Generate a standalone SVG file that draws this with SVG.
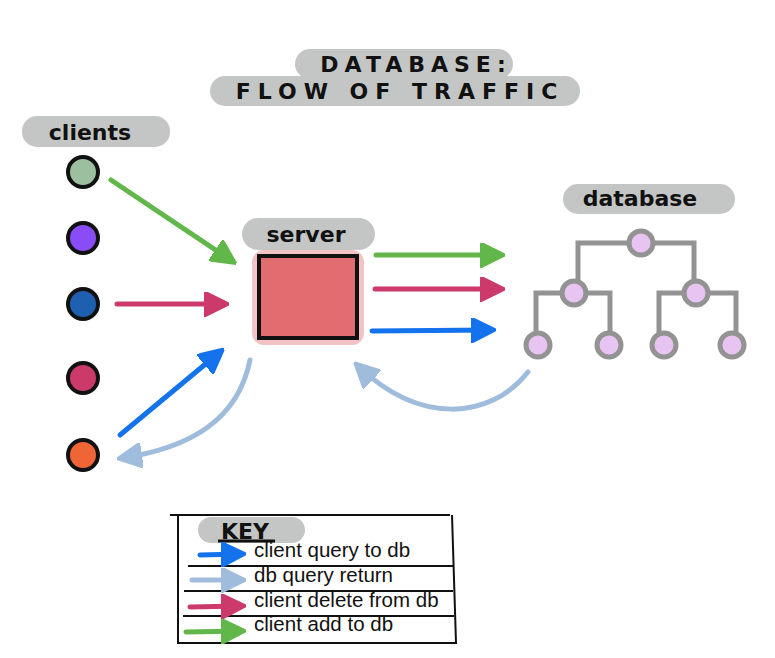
<svg xmlns="http://www.w3.org/2000/svg" width="775" height="658" viewBox="0 0 775 658">
<defs>
<style>
.pill{fill:#c4c6c6}
.hand{font-family:"DejaVu Sans",sans-serif;font-weight:bold;fill:#111}
.client{stroke:#111;stroke-width:4}
.tree{fill:none;stroke:#939393;stroke-width:5}
.tnode{fill:#e8c4f3;stroke:#939393;stroke-width:5}
.arr{fill:none;stroke-width:5;stroke-linecap:round}
.key{font-family:"Liberation Sans",Arial,sans-serif;font-size:20.5px;fill:#111}
.kline{stroke:#111;stroke-width:2;fill:none}
</style>
<marker id="hG" viewBox="0 0 10 10" refX="8" refY="5" markerWidth="5" markerHeight="5" orient="auto" markerUnits="strokeWidth"><path d="M0,0 L10,5 L0,10 z" fill="#62b74a" stroke="#62b74a" stroke-linejoin="round"/></marker>
<marker id="hP" viewBox="0 0 10 10" refX="8" refY="5" markerWidth="5" markerHeight="5" orient="auto" markerUnits="strokeWidth"><path d="M0,0 L10,5 L0,10 z" fill="#cc3a6b" stroke="#cc3a6b" stroke-linejoin="round"/></marker>
<marker id="hB" viewBox="0 0 10 10" refX="8" refY="5" markerWidth="5" markerHeight="5" orient="auto" markerUnits="strokeWidth"><path d="M0,0 L10,5 L0,10 z" fill="#1372ec" stroke="#1372ec" stroke-linejoin="round"/></marker>
<marker id="hL" viewBox="0 0 10 10" refX="8" refY="5" markerWidth="5" markerHeight="5" orient="auto" markerUnits="strokeWidth"><path d="M0,0 L10,5 L0,10 z" fill="#a0bcdc" stroke="#a0bcdc" stroke-linejoin="round"/></marker>
</defs>
<rect width="775" height="658" fill="#fff"/>

<g id="title">
<rect class="pill" x="295" y="49" width="218" height="30" rx="15"/>
<rect class="pill" x="210" y="76" width="370" height="30" rx="15"/>
<text class="hand" x="416" y="72" font-size="22" text-anchor="middle" letter-spacing="6">DATABASE:</text>
<text class="hand" x="400" y="99" font-size="22" text-anchor="middle" letter-spacing="7">FLOW  OF  TRAFFIC</text>
</g>

<g id="clients-label">
<rect class="pill" x="22" y="116" width="148" height="31" rx="15"/>
<text class="hand" x="90" y="140" font-size="22" text-anchor="middle">clients</text>
</g>

<g id="client-1"><circle class="client" cx="83" cy="172" r="15" fill="#9cbf9f"/></g>
<g id="client-2"><circle class="client" cx="83" cy="238" r="15" fill="#8a4cf6"/></g>
<g id="client-3"><circle class="client" cx="83" cy="304" r="15" fill="#1e5fb0"/></g>
<g id="client-4"><circle class="client" cx="83" cy="378" r="15" fill="#cc3a6a"/></g>
<g id="client-5"><circle class="client" cx="83" cy="455" r="15" fill="#ef6535"/></g>

<g id="server">
<rect class="pill" x="242" y="218" width="133" height="32" rx="16"/>
<text class="hand" x="306" y="242" font-size="22" text-anchor="middle">server</text>
<rect x="252" y="250" width="112" height="95" rx="12" fill="#f2c2c4"/>
<rect x="259" y="256" width="98" height="82" fill="#e26d70" stroke="#111" stroke-width="4"/>
</g>

<g id="database">
<rect class="pill" x="563" y="184" width="172" height="30" rx="15"/>
<text class="hand" x="640" y="206" font-size="22" text-anchor="middle">database</text>
<path class="tree" d="M630,243 H578 V282 M652,243 H694 V282 M563,293 H536 V333 M585,293 H610 V333 M685,293 H659 V334 M707,293 H736 V334"/>
<circle class="tnode" cx="641" cy="243" r="12"/>
<circle class="tnode" cx="574" cy="293" r="12"/>
<circle class="tnode" cx="696" cy="293" r="12"/>
<circle class="tnode" cx="538" cy="345" r="12"/>
<circle class="tnode" cx="609" cy="345" r="12"/>
<circle class="tnode" cx="664" cy="345" r="12"/>
<circle class="tnode" cx="732" cy="345" r="12"/>
</g>

<g id="connectors">
<path class="arr" stroke="#62b74a" d="M111,180 L232,261" marker-end="url(#hG)"/>
<path class="arr" stroke="#cc3a6b" d="M117,304 L224,304" marker-end="url(#hP)"/>
<path class="arr" stroke="#1372ec" d="M120,435 L220,352" marker-end="url(#hB)"/>
<path class="arr" stroke="#a0bcdc" d="M250,360 C238,420 190,448 122,458" marker-end="url(#hL)"/>
<path class="arr" stroke="#62b74a" d="M376,255 L500,255" marker-end="url(#hG)"/>
<path class="arr" stroke="#cc3a6b" d="M375,289 L500,289" marker-end="url(#hP)"/>
<path class="arr" stroke="#1372ec" d="M372,331 L491,330" marker-end="url(#hB)"/>
<path class="arr" stroke="#a0bcdc" d="M528,372 C490,420 420,425 358,366" marker-end="url(#hL)"/>
</g>

<g id="key">
<path class="kline" d="M170,515 H450 M178,515 V643 H456 L452,515"/>
<path class="kline" d="M188,566 H453 M184,591 H453 M183,616 H454"/>
<rect class="pill" x="198" y="517" width="107" height="26" rx="13"/>
<text class="hand" x="245" y="539" font-size="22" text-anchor="middle">KEY</text>
<path d="M218,541 H275" stroke="#111" stroke-width="3"/>
<text class="key" x="254" y="557">client query to db</text>
<text class="key" x="254" y="582">db query return</text>
<text class="key" x="254" y="607">client delete from db</text>
<text class="key" x="254" y="631">client add to db</text>
<path class="arr" stroke="#1372ec" stroke-width="3" d="M200,555 L241,554" marker-end="url(#hB)"/>
<path class="arr" stroke="#a0bcdc" stroke-width="3" d="M192,580 L241,580" marker-end="url(#hL)"/>
<path class="arr" stroke="#cc3a6b" stroke-width="3" d="M190,607 L241,606" marker-end="url(#hP)"/>
<path class="arr" stroke="#62b74a" stroke-width="3" d="M186,632 L241,631" marker-end="url(#hG)"/>
</g>
</svg>
